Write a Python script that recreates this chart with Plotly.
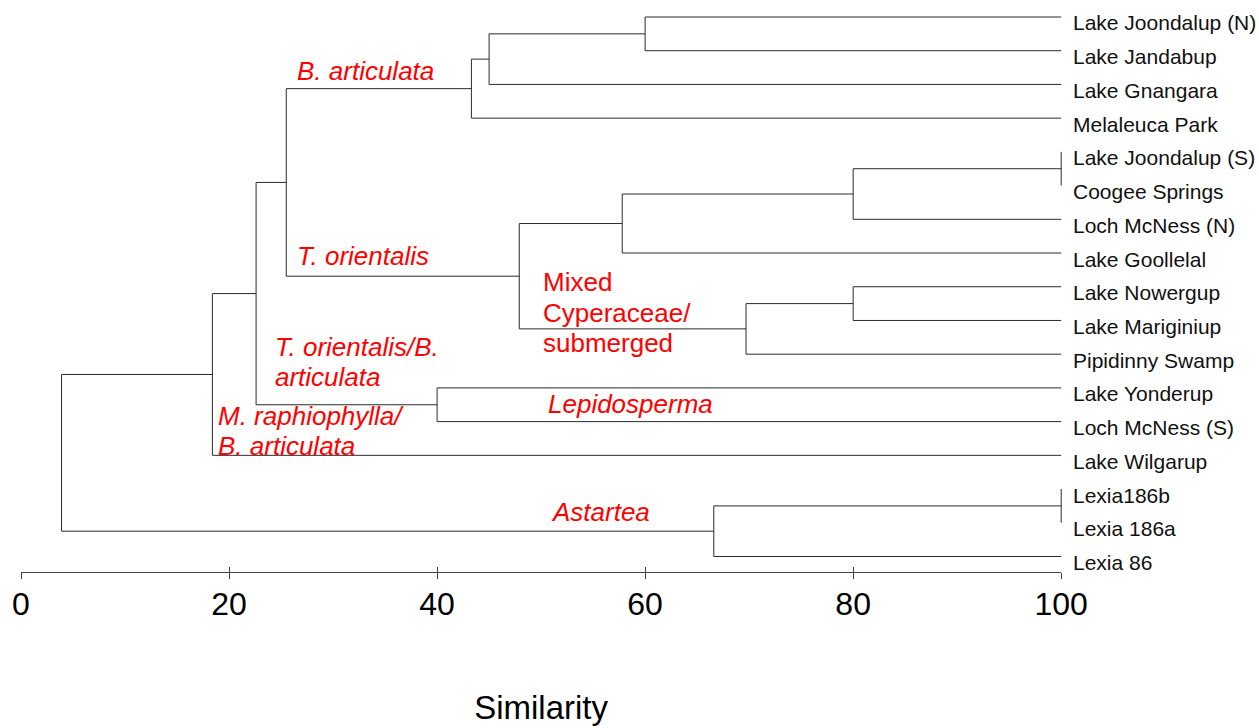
import plotly.graph_objects as go

# Sites (leaf order, top to bottom)
sites = [
    "Lake Joondalup (N)", "Lake Jandabup", "Lake Gnangara", "Melaleuca Park",
    "Lake Joondalup (S)", "Coogee Springs", "Loch McNess (N)", "Lake Goollelal",
    "Lake Nowergup", "Lake Mariginiup", "Pipidinny Swamp", "Lake Yonderup",
    "Loch McNess (S)", "Lake Wilgarup", "Lexia186b", "Lexia 186a", "Lexia 86",
]

# Cluster merges: node ids >= len(sites) refer to earlier merges
merge_left = [0, 17, 18, 4, 20, 21, 8, 23, 22, 19, 11, 26, 28, 14, 30, 29]
merge_right = [1, 2, 3, 5, 6, 7, 9, 10, 24, 25, 12, 27, 13, 15, 16, 31]
merge_similarity = [60.0, 45.0, 43.3, 100.0, 80.0, 57.8, 80.0, 69.7,
                    47.9, 25.5, 40.0, 22.6, 18.4, 100.0, 66.6, 3.9]

# Vegetation group labels
group_lines = [
    ["B. articulata"],
    ["T. orientalis"],
    ["Mixed", "Cyperaceae/", "submerged"],
    ["T. orientalis/B.", "articulata"],
    ["M. raphiophylla/", "B. articulata"],
    ["Lepidosperma"],
    ["Astartea"],
]

x_ticks = [0, 20, 40, 60, 80, 100]

# ---- build dendrogram segments ----
n = len(sites)
node_x = {i: 100.0 for i in range(n)}
node_y = {i: float(i) for i in range(n)}
seg_x, seg_y = [], []
for k, (a, b, s) in enumerate(zip(merge_left, merge_right, merge_similarity)):
    nid = n + k
    for c in (a, b):
        if node_x[c] != s:
            seg_x += [s, node_x[c], None]
            seg_y += [node_y[c], node_y[c], None]
    seg_x += [s, s, None]
    seg_y += [node_y[a], node_y[b], None]
    node_x[nid] = s
    node_y[nid] = (node_y[a] + node_y[b]) / 2

FONT = "Arial, Liberation Sans, sans-serif"
X_MAX = 102.0
CLEAR = "rgba(0,0,0,0)"

fig = go.Figure()
fig.add_trace(go.Scatter(
    x=seg_x, y=seg_y, mode="lines",
    line=dict(color="#2b2b2b", width=1),
    hoverinfo="skip", showlegend=False, xaxis="x", yaxis="y",
))
# placeholder traces so the scale axes are rendered
for ax in ("x2", "x3"):
    fig.add_trace(go.Scatter(x=[0, 100], y=[None, None], mode="lines",
                             xaxis=ax, yaxis="y", showlegend=False,
                             hoverinfo="skip"))

annotations = []
for i, name in enumerate(sites):
    annotations.append(dict(
        x=100, y=i, xref="x", yref="y", text=name, showarrow=False,
        xanchor="left", yanchor="middle", xshift=10, yshift=-6,
        font=dict(family=FONT, size=21, color="#111111"),
    ))

# label anchors (similarity, leaf position), line spacing and slant
group_pos = [
    (26.35, 1.6), (26.35, 7.1), (50.0, 7.87), (24.2, 9.8),
    (18.7, 11.84), (50.5, 11.47), (50.8, 14.67),
]
line_step = [0, 0, 0.905, 0.87, 0.89, 0, 0]
group_style = ["italic", "italic", "normal", "italic", "italic",
               "italic", "italic"]
for lines, (gx, gy), step, st in zip(group_lines, group_pos, line_step,
                                     group_style):
    for j, txt in enumerate(lines):
        annotations.append(dict(
            x=gx, y=gy + j * step, xref="x", yref="y", text=txt,
            showarrow=False, xanchor="left", yanchor="middle",
            font=dict(family=FONT, size=26, color="#ff0000", style=st),
        ))

axis_common = dict(
    range=[0, 100], domain=[0, 100 / X_MAX], tickvals=x_ticks,
    anchor="y", showgrid=False, zeroline=False,
    tickcolor="#444444", tickwidth=1,
)

fig.update_layout(
    width=1259, height=728,
    margin=dict(l=21, r=1259 - 21 - int(round(X_MAX * 10.4)), t=0, b=156),
    paper_bgcolor="white", plot_bgcolor=CLEAR,
    showlegend=False,
    xaxis=dict(range=[0, X_MAX], domain=[0, 1], visible=False,
               showgrid=False, zeroline=False),
    yaxis=dict(range=[16.46, -0.504], visible=False, showgrid=False,
               zeroline=False),
    xaxis2=dict(
        **axis_common, ticks="outside", ticklen=6,
        showline=True, linecolor="#444444", linewidth=1,
        tickfont=dict(family=FONT, size=32, color="black"),
        ticklabelstandoff=-2,
        title=dict(text="Similarity", standoff=74,
                   font=dict(family=FONT, size=33, color="black")),
    ),
    xaxis3=dict(
        **axis_common, ticks="inside", ticklen=5, showline=False,
        showticklabels=False,
    ),
    annotations=annotations,
)

fig.write_html("out.html")
